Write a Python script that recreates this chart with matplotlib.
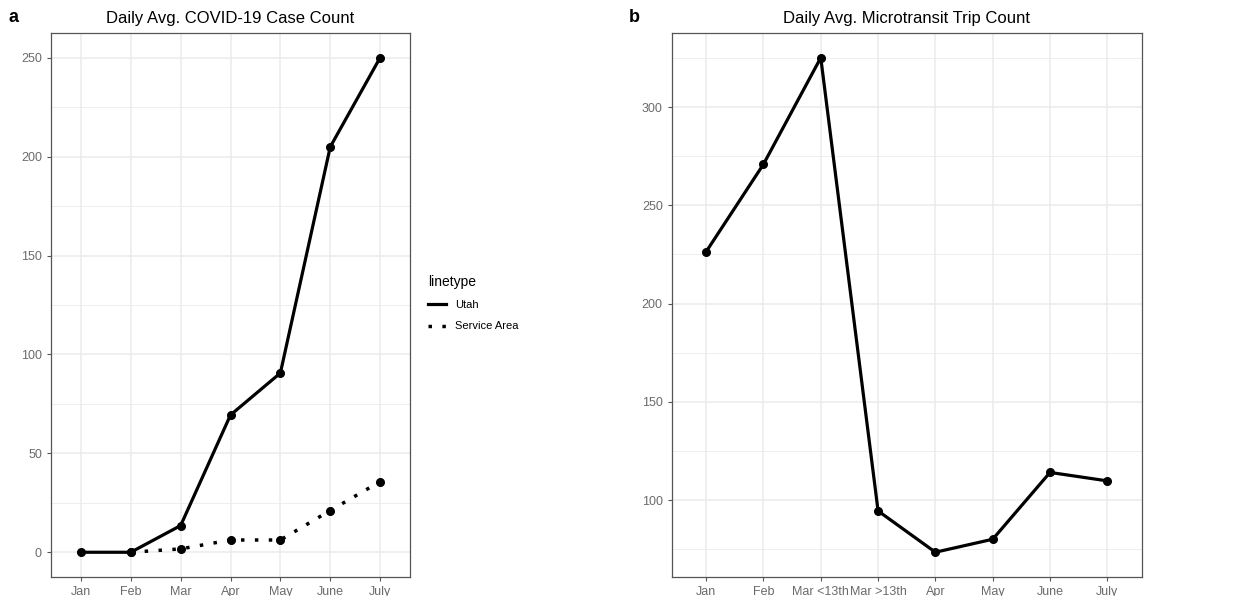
import matplotlib.pyplot as plt
from matplotlib.ticker import MultipleLocator

plt.rcParams['font.family'] = ['Liberation Sans', 'DejaVu Sans']

# panel a data
months_a = ['Jan', 'Feb', 'Mar', 'Apr', 'May', 'June', 'July']
utah_cases = [0, 0, 13.5, 69.4, 90.6, 204.9, 250]
service_months = ['Feb', 'Mar', 'Apr', 'May', 'June', 'July']
service_cases = [0, 1.7, 6.2, 6.2, 21.1, 35.7]

# panel b data
months_b = ['Jan', 'Feb', 'Mar <13th', 'Mar >13th', 'Apr', 'May', 'June', 'July']
trips = [226.4, 270.9, 325.1, 94.5, 73.5, 80.1, 114.1, 109.8]

fig = plt.figure(figsize=(12.41, 5.96), dpi=100)
ax1 = fig.add_axes([0.0411, 0.0319, 0.2893, 0.9128])
ax2 = fig.add_axes([0.5413, 0.0319, 0.3787, 0.9128])


def style(ax, n, major, ylim):
    ax.set_xlim(-0.6, n - 1 + 0.6)
    ax.set_ylim(*ylim)
    ax.yaxis.set_major_locator(MultipleLocator(major))
    ax.yaxis.set_minor_locator(MultipleLocator(major / 2))
    ax.grid(which='major', color='#ebebeb', linewidth=1.1)
    ax.grid(which='minor', axis='y', color='#ebebeb', linewidth=0.6)
    ax.set_axisbelow(True)
    for s in ax.spines.values():
        s.set_color('#555555')
        s.set_linewidth(0.9)
    ax.tick_params(which='major', colors='#555555', labelcolor='#6b6b6b',
                   labelsize=9, length=3, width=0.8)
    ax.tick_params(which='minor', length=0)


pos_a = {m: i for i, m in enumerate(months_a)}
ax1.plot([pos_a[m] for m in months_a], utah_cases, color='black', linewidth=2.3,
         marker='o', markersize=5.5, label='Utah')
ax1.plot([pos_a[m] for m in service_months], service_cases, color='black', linewidth=2.5,
         linestyle=(0, (1, 3)), marker='o', markersize=5.5, label='Service Area')
ax1.set_xticks(range(len(months_a)))
ax1.set_xticklabels(months_a)
style(ax1, len(months_a), 50, (-12.5, 262.5))
ax1.set_title('Daily Avg. COVID-19 Case Count', fontsize=12, pad=7)

ax2.plot(range(len(months_b)), trips, color='black', linewidth=2.3,
         marker='o', markersize=5.5)
ax2.set_xticks(range(len(months_b)))
ax2.set_xticklabels(months_b)
style(ax2, len(months_b), 50, (60.9, 337.7))
ax2.set_title('Daily Avg. Microtransit Trip Count', fontsize=12, pad=7)

fig.text(0.007, 0.97, 'a', fontsize=13, fontweight='bold', va='center')
fig.text(0.507, 0.97, 'b', fontsize=13, fontweight='bold', va='center')

h, l = ax1.get_legend_handles_labels()
for hh in h:
    hh.set_marker('')
leg = fig.legend(h, l, title='linetype', loc='upper left', bbox_to_anchor=(0.337, 0.555),
                 frameon=False, fontsize=8, title_fontsize=10, handlelength=1.6,
                 labelspacing=1.0, alignment='left')
for hh in h:
    hh.set_marker('o')

fig.savefig('out.png', dpi=100)
